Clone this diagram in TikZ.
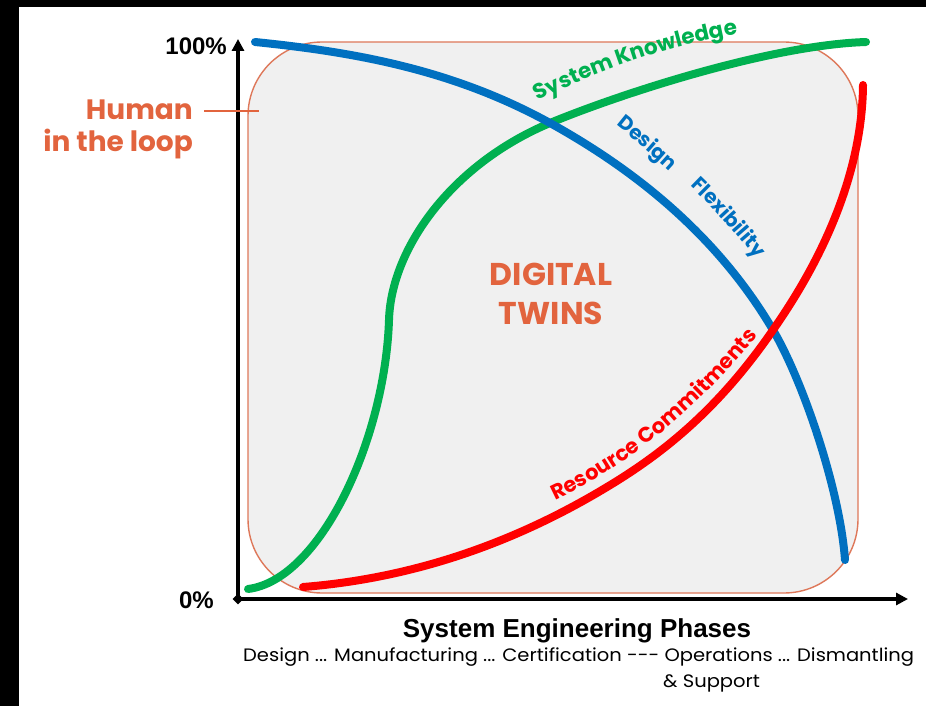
\documentclass[tikz,border=0pt]{standalone}
\usepackage{graphicx}
\usepackage{fontspec}
\setmainfont{Poppins}
\newfontfamily\arialf{Liberation Sans}
\usetikzlibrary{arrows.meta,decorations.text,shapes.geometric}
\definecolor{dtorange}{RGB}{226,100,62}
\definecolor{rectline}{RGB}{222,120,90}
\definecolor{rectfill}{RGB}{240,240,240}
\definecolor{dfblue}{RGB}{0,112,192}
\definecolor{skgreen}{RGB}{0,176,80}
\definecolor{rcred}{RGB}{255,0,0}
\begin{document}
\begin{tikzpicture}[x=1pt,y=-1pt,
  axis/.style={line width=3.6pt, black},
  curve/.style={line width=8pt, line cap=round, line join=round},
  axislbl/.style={font=\arialf\bfseries\fontsize{24}{24}\selectfont, inner sep=0pt},
  orangelbl/.style={text=dtorange, font=\bfseries\fontsize{28}{28}\selectfont, inner sep=0pt},
  dtlbl/.style={text=dtorange, font=\bfseries\fontsize{31.5}{31.5}\selectfont, inner sep=0pt},
  phaselbl/.style={font=\fontsize{18}{18}\selectfont, inner sep=0pt},
]
\useasboundingbox (0,0) rectangle (926,706);
\fill[white] (0,0) rectangle (926,706);
% black frame edges
\fill[black] (0,0) rectangle (926,7);
\fill[black] (0,0) rectangle (19,706);

% digital twin region
\draw[draw=rectline, fill=rectfill, line width=1.4pt, rounded corners=74pt] (248,42) rectangle (858,593);

% axes
\coordinate (O) at (238,599);
\coordinate (Ytop) at (238,39);
\coordinate (Xend) at (908,599);
\draw[axis, line join=miter, {Triangle[length=12pt,width=12pt]}-{Triangle[length=12pt,width=12pt]}] (Ytop) -- (O) -- (Xend);
\node[diamond, fill=black, inner sep=0pt, minimum size=11pt] (Odiam) at (O) {};

\node[axislbl, anchor=base east] (p100) at (227,55) {100\%};
\node[axislbl, anchor=base east] (p0) at (214,608) {0\%};

% human in the loop
\node[orangelbl, anchor=base east] (human) at (193,120) {Human};
\node[orangelbl, anchor=base east] (loop) at (193,152) {in the loop};
\coordinate (hdash) at (259,111);
\draw[dtorange, line width=1.6pt] (204,111) -- (hdash);

% digital twins
\node[dtlbl, anchor=base] (digital) at (551,285) {DIGITAL};
\node[dtlbl, anchor=base] (twins) at (551,324) {TWINS};

% curves
\draw[curve, skgreen] (248,589) .. controls (320,580) and (385,440) .. (389,320)
  .. controls (391,250) and (450,165) .. (550,123)
  .. controls (620,94) and (770,45) .. (866,42);
\draw[curve, dfblue] (255,42) .. controls (353,52) and (452,69) .. (550,123)
  .. controls (624,164) and (713,228) .. (773,330)
  .. controls (803,381) and (840,490) .. (845,560);
\draw[curve, rcred] (303,587) .. controls (404,579) and (506,548) .. (607,487)
  .. controls (662,454) and (718,410) .. (773,330)
  .. controls (795,298) and (862,200) .. (863,85);

% curve labels
\path[decorate, decoration={text along path, text align=left, text color=skgreen,
  text={|\bfseries\fontsize{21.5}{21.5}\selectfont|System Knowledge}}]
  (538,101) .. controls (600,70) and (665,45) .. (770,28);
\path[decorate, decoration={text along path, text align=left, text color=dfblue,
  text={|\bfseries\fontsize{20}{20}\selectfont|Design}}]
  (616,125) .. controls (640,144) and (665,166) .. (690,190);
\path[decorate, decoration={text along path, text align=left, text color=dfblue,
  text={|\bfseries\fontsize{20}{20}\selectfont|Flexibility}}]
  (690,186) .. controls (715,210) and (745,242) .. (785,295);
\path[decorate, decoration={text along path, text align=left, text color=rcred,
  text={|\bfseries\fontsize{21}{21}\selectfont|Resource Commitments}}]
  (555,500) .. controls (640,460) and (710,400) .. (790,295);

% x axis labels
\node[font=\arialf\bfseries\fontsize{26}{26}\selectfont, inner sep=0pt, anchor=base] (sep) at (577,637) {System Engineering Phases};
\node[phaselbl, anchor=base west] (phases) at (243,661) {\scalebox{1.084}[1]{Design ... Manufacturing ... Certification {-}{-}{-} Operations ... Dismantling}};
\node[phaselbl, anchor=base west] (support) at (663,687) {\scalebox{1.084}[1]{\& Support}};
\end{tikzpicture}
\end{document}
